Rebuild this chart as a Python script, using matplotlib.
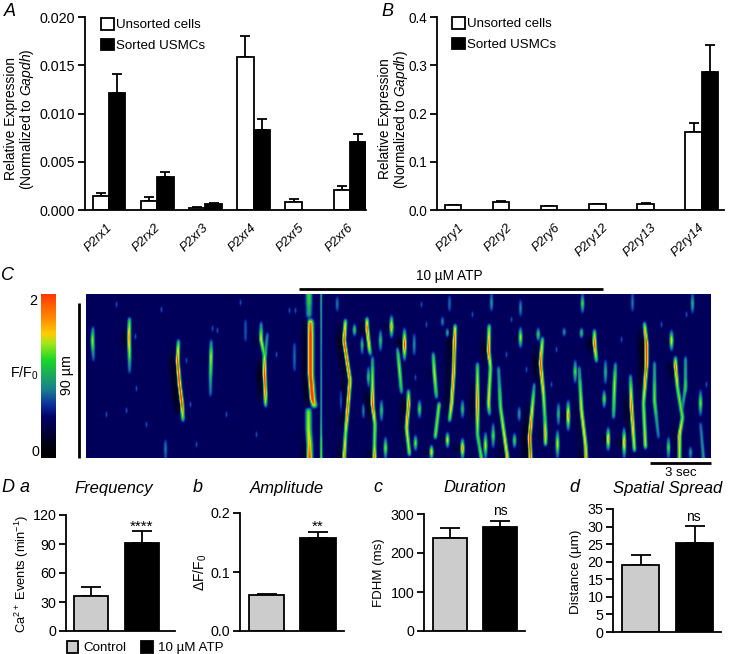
import numpy as np
import matplotlib
matplotlib.use("Agg")
import matplotlib.pyplot as plt
from matplotlib.colors import LinearSegmentedColormap
from matplotlib.patches import Patch

plt.rcParams['font.family'] = ['Liberation Sans', 'DejaVu Sans']
plt.rcParams['mathtext.fontset'] = 'custom'
plt.rcParams['mathtext.rm'] = 'Liberation Sans'
plt.rcParams['mathtext.it'] = 'Liberation Sans:italic'
plt.rcParams['mathtext.default'] = 'regular'

W, H = 732, 654

# panel A
p2x_names = ["P2rx1", "P2rx2", "P2xr3", "P2xr4", "P2xr5", "P2xr6"]
p2x_unsorted = [0.0015, 0.0009, 0.0002, 0.0159, 0.0008, 0.0021]
p2x_unsorted_err = [0.0003, 0.0004, 0.0001, 0.0021, 0.0003, 0.0004]
p2x_sorted = [0.0121, 0.0034, 0.0006, 0.0083, 0.0, 0.0070]
p2x_sorted_err = [0.0020, 0.0005, 0.0001, 0.0011, 0.0, 0.0009]
p2x_ticks = [0.0, 0.005, 0.010, 0.015, 0.020]

# panel B
p2y_names = ["P2ry1", "P2ry2", "P2ry6", "P2ry12", "P2ry13", "P2ry14"]
p2y_unsorted = [0.010, 0.017, 0.008, 0.012, 0.013, 0.162]
p2y_unsorted_err = [0.001, 0.002, 0.001, 0.001, 0.001, 0.018]
p2y_sorted = [0.0, 0.0, 0.0, 0.0, 0.0, 0.287]
p2y_sorted_err = [0.0, 0.0, 0.0, 0.0, 0.0, 0.054]
p2y_ticks = [0.0, 0.1, 0.2, 0.3, 0.4]

# panel D
freq_vals, freq_err = [36, 91], [10, 12]
amp_vals, amp_err = [0.061, 0.157], [0.002, 0.011]
dur_vals, dur_err = [238, 266], [25, 17]
spread_vals, spread_err = [19, 25.3], [3, 5]

# panel C, traced calcium events: (column, row, F/F0) along each streak
long_events = [
    [(6.5, 33, .8), (6, 46, 1.3), (7, 66, .7)],
    [(43, 24, 1.0), (42.5, 43, 1.6), (43, 60, 1.2), (43, 78, .75)],
    [(92, 46, 1.0), (91, 66, 1.8), (93, 90, 1.8), (95.5, 110, 1.85), (96.5, 126, 1.0)],
    [(124.7, 46, .8), (124.5, 62, 1.3), (124, 85, 1.0), (124, 101, .75)],
    [(174.7, 28, .8), (174.5, 45, 1.4), (178, 61, 1.1)],
    [(181, 39, .8), (178.5, 61, 1.1)],
    [(178, 62, 1.3), (178, 80, 1.85), (179, 100, 1.6), (179, 110, 1.1), (179.5, 112, .8)],
    [(259, 26, 1.2), (257.5, 46, 1.8), (263.5, 86, 1.6), (261, 116, 1.7), (259, 140, 1.2), (257.5, 164, 1.6)],
    [(280.5, 24, 1.1), (280.5, 33, 1.7), (283, 55, 1.3), (284, 60, .9)],
    [(286, 63, .9), (286, 95, 1.4), (286, 110, 1.8), (288.5, 130, 1.2), (288, 150, 1.2), (288, 164, 1.7)],
    [(311, 53, 1.0), (313, 75, 1.25), (315, 98, 1.0)],
    [(322, 96, 1.0), (322, 110, 1.7), (320, 133, 1.4), (323, 160, 1.2)],
    [(346.7, 59, 1.0), (348, 80, 1.35), (350, 103, 1.0)],
    [(368.7, 31, 1.2), (368, 46, 1.75), (367, 80, 1.6), (365, 110, 1.5), (363, 126, 1.1)],
    [(352.7, 109, 1.2), (348.7, 143, 1.2)],
    [(391, 69, 1.0), (391, 109, 1.7), (391, 140, 1.1), (395, 164, 1.2)],
    [(402.7, 31, 1.1), (402, 56, 1.75), (404, 73, 1.2), (402, 109, 1.4), (403, 120, .9)],
    [(412, 73, .9), (414, 113, 1.2), (421, 164, 1.5)],
    [(456, 44, 1.1), (454, 69, 1.8), (457, 100, 1.3), (458.5, 125, 1.1), (459, 139, 1.5), (459, 150, 1.2)],
    [(448, 89, .9), (443, 143, 1.9), (444, 164, 1.7)],
    [(492.7, 73, .9), (495, 116, 1.4), (499, 150, 1.4), (499.5, 164, 1.6)],
    [(508, 36, 1.0), (508, 49, 1.8), (510, 67, 1.0)],
    [(529, 69, .9), (528, 90, 1.3), (527, 123, 1.0)],
    [(544, 81, .9), (545, 113, 1.7), (548, 156, 1.2)],
    [(558, 29, 1.1), (560, 50, 1.9), (560, 69, 1.8), (557, 109, 1.2), (559, 153, 1.3)],
    [(568, 68, .9), (568, 106, 1.2), (572, 143, .8)],
    [(589, 63, 1.0), (589, 72, 1.7), (591, 93, 1.2), (596, 123, 1.2), (593, 140, 1.5), (593, 164, 1.3)],
    [(599, 63, .9), (599, 93, 1.1), (595, 119, .8)],
    [(614, 129, .8), (617, 164, .95)],
]
# the wide event just after ATP goes on
wide_events = [
    [(222.5, 0, 1.1), (222.5, 22, 1.0)],
    [(224, 26, 1.6), (224, 40, 1.9), (224, 80, 1.9), (226, 105, 1.9), (228, 112, 1.4)],
    [(222, 115, 1.2), (222, 135, 1.3), (223, 150, 1.5), (223, 164, 1.8)],
]
# thin line next to it
thin_events = [
    [(234.7, 0, .95), (234.7, 60, .85), (234.7, 120, .9), (234.7, 164, 1.2)],
]
# short ones: (column, first row, last row, peak)
short_events = [
    (268, 30, 41, 1.1), (275.7, 41, 59, 1.0), (282, 73, 93, 1.0), (294, 36, 56, 1.0),
    (295, 106, 126, 1.0), (305, 21, 43, 1.5), (318, 34, 66, 1.8), (333, 106, 123, 1.1),
    (327.7, 40, 60, .8), (361, 34, 43, 1.0), (361, 138, 153, 1.4), (345, 151, 164, 1.5),
    (376, 144, 164, 1.6), (376, 106, 123, 1.0), (399, 138, 164, 1.3), (406.7, 129, 153, 1.1),
    (434, 33, 53, 1.3), (428, 139, 153, 1.1), (434, 6, 21, .8), (405, 0, 16, .85),
    (451.7, 34, 46, 1.1), (472, 109, 130, 1.0), (471, 136, 163, 1.3), (481.7, 106, 136, 1.55),
    (477.7, 34, 41, .9), (495, 34, 43, 1.1), (496, 0, 18, 1.1), (488.7, 66, 88, 1.1),
    (519, 66, 89, .95), (517.7, 96, 113, 1.15), (521.7, 133, 156, 1.5), (537.7, 133, 163, 1.5),
    (585, 36, 56, 1.4), (614, 96, 121, 1.15), (582, 143, 163, 1.1), (606, 0, 18, .95),
    (604, 153, 163, .9), (299, 143, 164, 1.2), (329, 141, 156, 1.2), (432.7, 113, 126, .85),
    (546, 0, 16, .75), (363, 2, 16, .7), (356, 23, 31, .8), (79, 146, 163, .75),
    (159, 26, 46, .65), (208, 49, 76, .7), (250.7, 3, 16, .75), (254.7, 96, 119, .8),
    (277, 109, 123, .8),
]
# faint spots in the background: (column, row)
faint_spots = [
    (50, 94), (40, 116), (100, 66), (104, 110), (126, 34), (131, 36), (154, 8), (209, 16),
    (203, 16), (49, 42), (329, 83), (340, 30), (386, 20), (420, 60), (440, 75), (470, 55),
    (465, 90), (535, 45), (575, 30), (600, 20), (630, 40), (20, 120), (60, 130), (110, 150),
    (140, 120), (170, 140), (190, 60), (30, 10), (75, 15), (620, 90), (335, 10), (425, 25),
]

GRID_ROWS, GRID_COLS = 164, 625
BACKGROUND = 0.46

cmap_stops = [
    (0.0, (0, 0, 0)), (0.07, (0, 0, .05)), (0.25, (0, 0, .40)), (0.33, (.05, .2, .62)),
    (0.42, (.1, .5, .55)), (0.60, (.1, .85, .15)), (0.70, (.65, .9, .1)), (0.76, (1, .8, 0)),
    (0.85, (1, .55, 0)), (1.0, (1, .22, 0)),
]
kymo_cmap = LinearSegmentedColormap.from_list("kymo", cmap_stops)


def paint(field, shade, vertices, width):
    cols, rows, levels = zip(*vertices)
    xx = np.arange(GRID_COLS)
    for r in range(int(rows[0]), min(int(rows[-1]) + 1, GRID_ROWS)):
        c = np.interp(r, rows, cols)
        lev = np.interp(r, rows, levels)
        # the blur below takes some off the peak, so put it back on the brighter ones
        if lev > 1.05:
            lev += 0.14
        g = BACKGROUND + (lev - BACKGROUND) * np.exp(-((xx - c) / width) ** 2)
        field[r] = np.maximum(field[r], g)
        # dark halo on the left side of strong events
        s = max(lev - 1.3, 0) * 0.4 * np.exp(-((xx - c + 5) / 3.5) ** 2) * (xx < c - 2)
        shade[r] = np.maximum(shade[r], s)


def soften(field):
    # vertical blur, so the streaks fade out at their ends
    kernel = np.array([1, 2, 3, 4, 3, 2, 1]) / 16
    padded = np.pad(field, ((3, 3), (0, 0)), mode='edge')
    return np.apply_along_axis(lambda col: np.convolve(col, kernel, mode='valid'), 0, padded)


def build_kymograph():
    field = np.full((GRID_ROWS, GRID_COLS), BACKGROUND)
    shade = np.zeros((GRID_ROWS, GRID_COLS))
    for c, r in faint_spots:
        paint(field, shade, [(c, r - 2, .7), (c, r, .85), (c, r + 2, .7)], 1.2)
    for col, r0, r1, peak in short_events:
        paint(field, shade, [(col, r0, .7), (col, (r0 + r1) / 2, peak + .1), (col, r1, .7)], 1.8)
    for v in long_events:
        paint(field, shade, v, 1.8)
    for v in wide_events:
        paint(field, shade, v, 2.9)
    for v in thin_events:
        paint(field, shade, v, 1.2)
    return np.clip(soften(field) - soften(shade), 0, 2)


def axes_px(fig, left, top, right, bottom):
    return fig.add_axes([left / W, 1 - bottom / H, (right - left) / W, (bottom - top) / H])


def style_axes(ax, yticks, labels, size=10.3):
    for s in ['top', 'right']:
        ax.spines[s].set_visible(False)
    for s in ['left', 'bottom']:
        ax.spines[s].set_linewidth(1.3)
    ax.set_yticks(yticks)
    ax.set_yticklabels(labels, fontsize=size)
    ax.tick_params(axis='y', length=5, width=1.3, pad=2)
    ax.set_ylim(yticks[0], yticks[-1])


def grouped_panel(ax, names, vals1, err1, vals2, err2, yticks, ylabels, first_center, xlim, tick_size=10.3):
    x = np.arange(len(names))
    w = 0.34
    ax.bar(x - w / 2, vals1, w, color='white', edgecolor='black', linewidth=1.3, zorder=2)
    ax.errorbar(x - w / 2, vals1, yerr=[np.zeros(6), err1], fmt='none', ecolor='black',
                elinewidth=1.3, capsize=3.5, capthick=1.3, zorder=1)
    # P2rx5 and the small P2ry bars have no sorted bar
    keep = np.array(vals2) > 0
    ax.bar(x[keep] + w / 2, np.array(vals2)[keep], w, color='black', edgecolor='black', linewidth=1.3, zorder=2)
    ax.errorbar(x[keep] + w / 2, np.array(vals2)[keep], yerr=[np.zeros(keep.sum()), np.array(err2)[keep]],
                fmt='none', ecolor='black', elinewidth=1.3, capsize=3.5, capthick=1.3, zorder=1)
    style_axes(ax, yticks, ylabels, size=tick_size)
    ax.set_xlim(xlim)
    ax.set_xticks(x + first_center)
    ax.set_xticklabels(names, rotation=45, ha='right', rotation_mode='anchor', style='italic', fontsize=9.4)
    ax.tick_params(axis='x', length=0, pad=8)
    ax.patch.set_alpha(0)


def pair_panel(ax, vals, errs, yticks, ylabels, xlim, width):
    ax.bar([0, 1], vals, width, color=['#cccccc', 'black'], edgecolor='black', linewidth=1.3, zorder=2)
    ax.errorbar([0, 1], vals, yerr=[[0, 0], errs], fmt='none', ecolor='black',
                elinewidth=1.3, capsize=7.5, capthick=1.3, zorder=1)
    style_axes(ax, yticks, ylabels)
    ax.set_xlim(xlim)
    ax.set_xticks([])
    ax.patch.set_alpha(0)


def main():
    fig = plt.figure(figsize=(W / 100, H / 100), dpi=100)

    overlay = fig.add_axes([0, 0, 1, 1])
    overlay.set_xlim(0, W)
    overlay.set_ylim(H, 0)
    overlay.axis('off')

    def put(x, y, s, size=10.3, **kw):
        kw.setdefault('ha', 'center')
        kw.setdefault('va', 'center')
        overlay.text(x, y, s, fontsize=size, **kw)

    # A
    ax_a = axes_px(fig, 85, 17, 366, 210)
    grouped_panel(ax_a, p2x_names, p2x_unsorted, p2x_unsorted_err, p2x_sorted, p2x_sorted_err,
                  p2x_ticks, ["0.000", "0.005", "0.010", "0.015", "0.020"], -0.065, (-0.498, 5.33))
    # B
    ax_b = axes_px(fig, 437, 17, 724, 210)
    grouped_panel(ax_b, p2y_names, p2y_unsorted, p2y_unsorted_err, p2y_sorted, p2y_sorted_err,
                  p2y_ticks, ["0.0", "0.1", "0.2", "0.3", "0.4"], -0.065, (-0.5, 5.46), tick_size=9.8)

    for x0, y0 in [(101, 18), (452, 17)]:
        handles = [Patch(facecolor='white', edgecolor='black', linewidth=1.3, label='Unsorted cells'),
                   Patch(facecolor='black', edgecolor='black', linewidth=1.3, label='Sorted USMCs')]
        fig.legend(handles=handles, loc='upper left', bbox_to_anchor=(x0 / W, 1 - y0 / H), frameon=False,
                   fontsize=9.6, handlelength=0.95, handleheight=0.95, handletextpad=0.2,
                   labelspacing=0.55, borderpad=0, borderaxespad=0)

    ylab = "Relative Expression\n(Normalized to $\\mathit{Gapdh}$)"
    put(20, 119, ylab, rotation=90, linespacing=0.98, size=10)
    put(394, 119, ylab, rotation=90, linespacing=0.98, size=9.8)

    # C
    ax_k = axes_px(fig, 86, 294, 711, 458)
    ax_k.imshow(build_kymograph(), cmap=kymo_cmap, vmin=0, vmax=2, aspect='auto', interpolation='bilinear')
    ax_k.axis('off')

    ax_cb = axes_px(fig, 41, 294, 56, 458)
    ax_cb.imshow(np.linspace(2, 0, 256)[:, None], cmap=kymo_cmap, vmin=0, vmax=2, aspect='auto')
    ax_cb.axis('off')

    put(33, 301, "2")
    put(35, 452, "0")
    put(24, 373, "F/F$_0$")
    put(67, 375, "90 \u00b5m", rotation=90)
    overlay.plot([79, 79], [303, 458], color='black', lw=2, solid_capstyle='butt')
    overlay.plot([299, 603], [289, 289], color='black', lw=2, solid_capstyle='butt')
    put(449, 276, "10 \u00b5M ATP", size=9.8)
    overlay.plot([650, 711], [463, 463], color='black', lw=2, solid_capstyle='butt')
    put(681, 473, "3 sec", size=9.5)

    # D
    ax_d1 = axes_px(fig, 66, 515, 175, 631)
    pair_panel(ax_d1, freq_vals, freq_err, [0, 30, 60, 90, 120], ["0", "30", "60", "90", "120"], (-0.495, 1.66), 0.67)
    ax_d2 = axes_px(fig, 240, 513, 344, 631)
    pair_panel(ax_d2, amp_vals, amp_err, [0, 0.1, 0.2], ["0.0", "0.1", "0.2"], (-0.515, 1.5), 0.69)
    ax_d3 = axes_px(fig, 424, 514, 525, 631)
    pair_panel(ax_d3, dur_vals, dur_err, [0, 100, 200, 300], ["0", "100", "200", "300"], (-0.52, 1.5), 0.69)
    ax_d4 = axes_px(fig, 613, 509, 721, 632)
    pair_panel(ax_d4, spread_vals, spread_err, [0, 5, 10, 15, 20, 25, 30, 35],
               ["0", "5", "10", "15", "20", "25", "30", "35"], (-0.51, 1.49), 0.69)

    put(114, 488, "Frequency", size=12, style='italic')
    put(287, 488, "Amplitude", size=12, style='italic')
    put(475, 488, "Duration", size=12, style='italic')
    put(668, 488, "Spatial Spread", size=12, style='italic')

    put(22, 574, "Ca$^{2+}$ Events (min$^{-1}$)", rotation=90, size=9.3)
    put(200, 572, "\u0394F/F$_0$", rotation=90, size=10)
    put(379, 573, "FDHM (ms)", rotation=90, size=9.5)
    put(576, 572, "Distance (\u00b5m)", rotation=90, size=9.7)

    put(142, 527, "****", size=11)
    put(318, 527, "**", size=11)
    put(500, 511, "ns", size=10)
    put(693, 517, "ns", size=10)

    handles = [Patch(facecolor='#cccccc', edgecolor='black', linewidth=1.3, label='Control'),
               Patch(facecolor='black', edgecolor='black', linewidth=1.3, label='10 \u00b5M ATP')]
    fig.legend(handles=handles, loc='upper left', bbox_to_anchor=(67 / W, 1 - 641 / H), frameon=False, ncol=2,
               fontsize=9.6, handlelength=0.85, handleheight=0.95, handletextpad=0.4, columnspacing=1.1,
               borderpad=0, borderaxespad=0)

    # panel letters
    put(4, 12, "A", size=13, style='italic', ha='left')
    put(381, 11, "B", size=13, style='italic', ha='left')
    put(1, 276, "C", size=13, style='italic', ha='left')
    put(1, 488, "D", size=13, style='italic', ha='left')
    put(20, 488, "a", size=13, style='italic', ha='left')
    put(193, 488, "b", size=13, style='italic', ha='left')
    put(373, 488, "c", size=13, style='italic', ha='left')
    put(569, 488, "d", size=13, style='italic', ha='left')

    fig.savefig("out.png", dpi=100)


if __name__ == "__main__":
    main()
